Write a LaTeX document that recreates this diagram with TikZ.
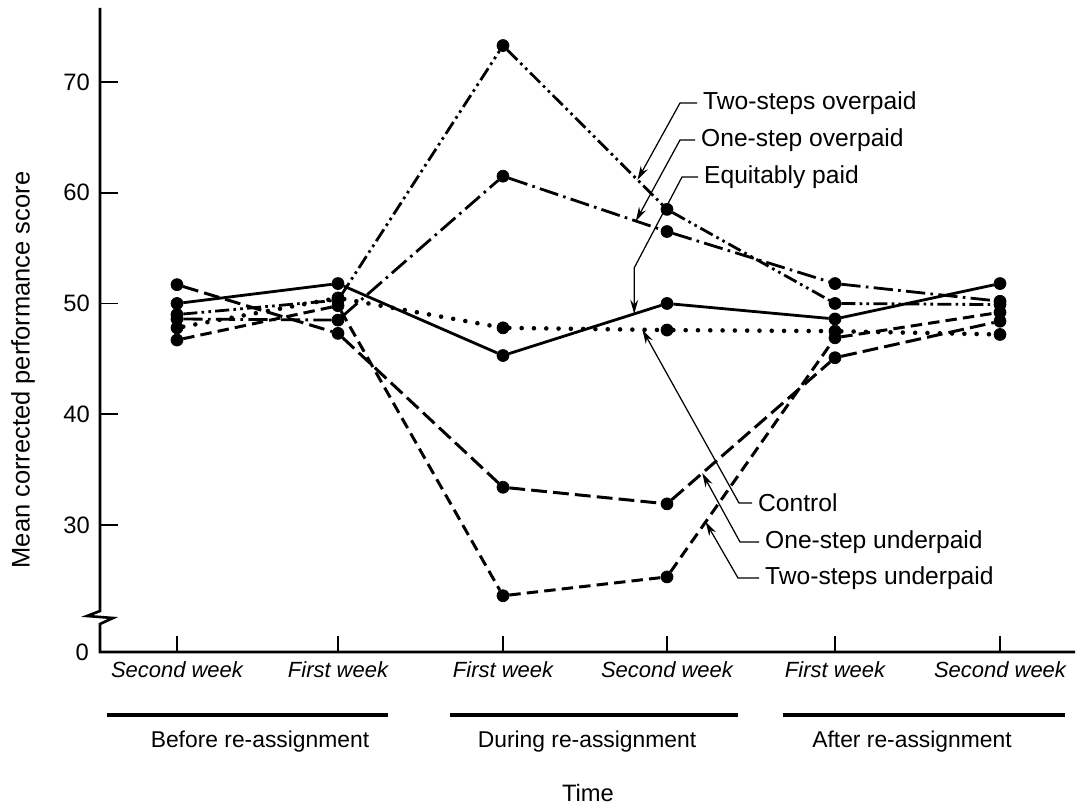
\documentclass[tikz,border=0pt]{standalone}
\usepackage{fontspec}
\setmainfont{Liberation Sans}
\usetikzlibrary{positioning,calc,arrows.meta}

\tikzset{
  dot/.style={draw,fill,circle,inner sep=0pt,minimum size=0.24cm},
  twoover/.style={line width=1.6pt,dash pattern=on 8pt off 2.4pt on 1.5pt off 2.4pt on 1.5pt off 2.4pt},
  oneover/.style={line width=1.6pt,dash pattern=on 11pt off 3pt on 1.5pt off 3pt},
  equit/.style={line width=1.6pt},
  ctrl/.style={line width=2.6pt,line cap=round,dash pattern=on 0pt off 7pt},
  oneunder/.style={line width=1.7pt,dash pattern=on 9pt off 3.5pt},
  twounder/.style={line width=1.7pt,dash pattern=on 6.5pt off 3.5pt},
  leader/.style={line width=0.7pt,-{Stealth[length=8pt,width=4.5pt]}},
  lab/.style={font=\fontsize{14}{16}\selectfont,anchor=west},
}

\begin{document}
\begin{tikzpicture}[font=\fontsize{13.5}{16}\selectfont]
\useasboundingbox (-2.0,-3.12) rectangle (19.68,13.04);

% axes with break
\draw[line width=1.5pt] (0,12.88) -- (0,0.82) -- (-0.26,0.72) -- (0.26,0.68) -- (0,0.56) -- (0,0) -- (19.5,0);
\node[left] (y0) at (-0.1,0) {0};

\begin{scope}[yshift=-4.1cm,y=0.2214cm]
\foreach \v in {30,40,50,60,70}{
  \draw[line width=1pt] (0,\v) -- (0.36,\v);
  \node[left] (y\v) at (-0.08,\v) {\v};
}

% the six groups
\foreach \s/\st/\vals in {to/twoover/{49.0,50.3,73.3,58.5,50.0,49.9},
                          oo/oneover/{48.6,48.5,61.5,56.5,51.8,50.2},
                          ep/equit/{50.0,51.8,45.3,50.0,48.6,51.8},
                          co/ctrl/{47.8,50.5,47.8,47.6,47.5,47.2},
                          ou/oneunder/{51.7,47.3,33.4,31.9,45.1,48.4},
                          tu/twounder/{46.7,49.8,23.6,25.3,46.9,49.2}}{
  \foreach[count=\i] \v in \vals{
    \pgfmathsetmacro\xx{{1.54,4.76,8.06,11.34,14.70,18.0}[\i-1]}
    \node[dot] (\s\i) at (\xx,\v) {};
  }
  \draw[\st] (\s1) -- (\s2) -- (\s3) -- (\s4) -- (\s5) -- (\s6);
}
\end{scope}

% x ticks
\foreach[count=\i] \x/\w in {1.54/Second week,4.76/First week,8.06/First week,11.34/Second week,14.70/First week,18.0/Second week}{
  \draw[line width=1pt] (\x,0) -- (\x,0.32);
  \node[below,font=\fontsize{12.5}{15}\selectfont\itshape] (w\i) at (\x,-0.06) {\w};
}

\foreach[count=\i] \a/\b/\c/\g in {0.14/5.76/3.2/Before re-assignment,7.0/12.76/9.74/During re-assignment,13.66/19.3/16.24/After re-assignment}{
  \draw[line width=1.8pt] (\a,-1.26) -- (\b,-1.26);
  \node[font=\fontsize{13}{15}\selectfont] (g\i) at (\c,-1.8) {\g};
}
\node (time) at (9.76,-2.82) {Time};
\node[rotate=90,font=\fontsize{14.5}{16}\selectfont] (ylab) at (-1.54,5.64) {Mean corrected performance score};

% labels
\node[lab] (lto) at (11.94,10.98) {Two-steps overpaid};
\node[lab] (loo) at (11.9,10.24) {One-step overpaid};
\node[lab] (lep) at (11.96,9.5) {Equitably paid};
\node[lab] (lco) at (13.04,2.98) {Control};
\node[lab] (lou) at (13.18,2.2) {One-step underpaid};
\node[lab] (ltu) at (13.18,1.48) {Two-steps underpaid};

\coordinate (totip) at ($(to3)!0.82!(to4)$);
\coordinate (ootip) at ($(oo3)!0.81!(oo4)$);
\coordinate (eptip) at ($(ep3)!0.80!(ep4)$);
\coordinate (epbend) at ($(eptip)+(0,0.92)$);
\coordinate (cotip) at ($(co3)!0.85!(co4)$);
\coordinate (outip) at ($(ou4)!0.21!(ou5)$);
\coordinate (tutip) at ($(tu4)!0.23!(tu5)$);

\draw[leader] (lto.west) -- ++(-0.34,0) -- (totip);
\draw[leader] (loo.west) -- ++(-0.3,0) -- (ootip);
\draw[leader] (lep.west) -- ++(-0.32,0) -- (epbend) -- (eptip);
\draw[leader] (lco.west) -- ++(-0.26,0) -- (cotip);
\draw[leader] (lou.west) -- ++(-0.38,0) -- (outip);
\draw[leader] (ltu.west) -- ++(-0.42,0) -- (tutip);

\end{tikzpicture}
\end{document}
